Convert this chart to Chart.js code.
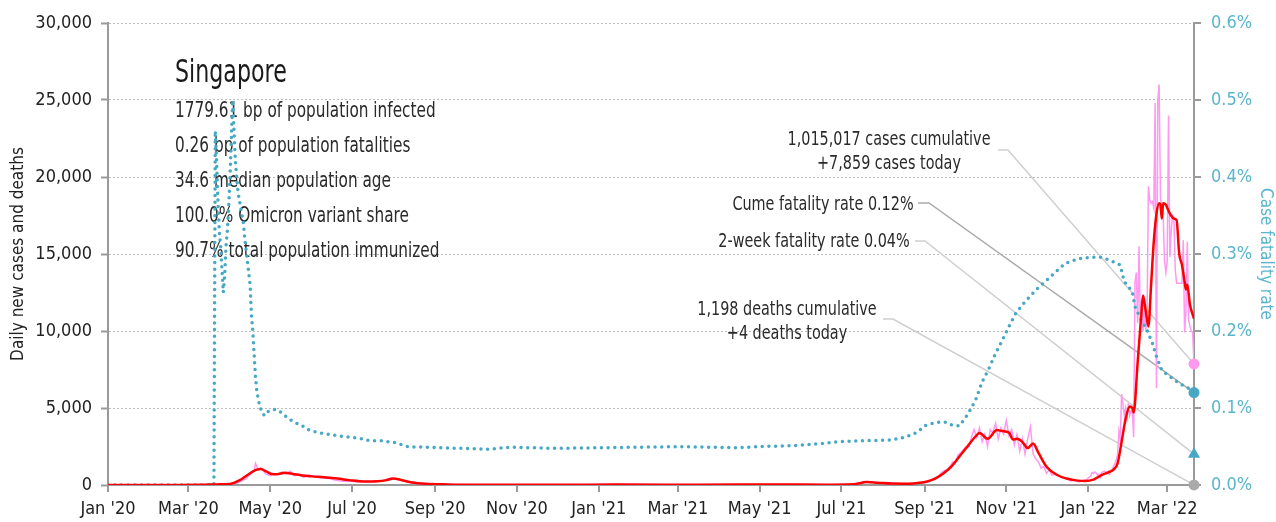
<!DOCTYPE html>
<html>
<head>
<meta charset="utf-8">
<title>Singapore</title>
<script src="https://cdn.jsdelivr.net/npm/chart.js@4.4.0/dist/chart.umd.min.js"></script>
<style>
  html, body { margin: 0; padding: 0; background: #fff; }
</style>
</head>
<body>
<canvas id="covidChart" width="1276" height="522"></canvas>
<script>
// Month ticks on the time axis
const monthTickDates = ["2020-01-01", "2020-03-01", "2020-05-01", "2020-07-01", "2020-09-01", "2020-11-01",
  "2021-01-01", "2021-03-01", "2021-05-01", "2021-07-01", "2021-09-01", "2021-11-01", "2022-01-01", "2022-03-01"];
const monthTickLabels = ["Jan '20", "Mar '20", "May '20", "Jul '20", "Sep '20", "Nov '20",
  "Jan '21", "Mar '21", "May '21", "Jul '21", "Sep '21", "Nov '21", "Jan '22", "Mar '22"];

// 7-day average of new cases
const avgDates = ["2020-01-01", "2020-02-15", "2020-03-10", "2020-03-22", "2020-04-01", "2020-04-08", "2020-04-14",
  "2020-04-20", "2020-04-24", "2020-04-28", "2020-05-02", "2020-05-06", "2020-05-12", "2020-05-18", "2020-05-25",
  "2020-06-01", "2020-06-10", "2020-06-20", "2020-06-30", "2020-07-10", "2020-07-20", "2020-07-26", "2020-08-01",
  "2020-08-06", "2020-08-15", "2020-08-25", "2020-09-10", "2020-10-01", "2020-12-01", "2021-01-15", "2021-03-15",
  "2021-05-15", "2021-06-20", "2021-07-10", "2021-07-20", "2021-07-28", "2021-08-08", "2021-08-20", "2021-08-28",
  "2021-09-03", "2021-09-09", "2021-09-15", "2021-09-21", "2021-09-27", "2021-10-03", "2021-10-09", "2021-10-12",
  "2021-10-18", "2021-10-25", "2021-10-29", "2021-11-03", "2021-11-06", "2021-11-09", "2021-11-13", "2021-11-17",
  "2021-11-21", "2021-11-25", "2021-12-01", "2021-12-09", "2021-12-16", "2021-12-23", "2021-12-30", "2022-01-05",
  "2022-01-10", "2022-01-16", "2022-01-20", "2022-01-23", "2022-01-26", "2022-01-29", "2022-02-01", "2022-02-03",
  "2022-02-04", "2022-02-07", "2022-02-10", "2022-02-11", "2022-02-13", "2022-02-15", "2022-02-17", "2022-02-19",
  "2022-02-21", "2022-02-23", "2022-02-24", "2022-02-25", "2022-02-26", "2022-02-28", "2022-03-02", "2022-03-06",
  "2022-03-08", "2022-03-10", "2022-03-12", "2022-03-14", "2022-03-15", "2022-03-16", "2022-03-18", "2022-03-21"];
const avgCases = [0, 5, 12, 40, 70, 300, 650,
  960, 1040, 880, 720, 700, 800, 720, 620,
  560, 500, 420, 300, 230, 250, 300, 420,
  340, 160, 80, 40, 15, 10, 25, 20,
  35, 20, 50, 190, 150, 90, 80, 140,
  230, 420, 750, 1200, 1850, 2500, 3150, 3370,
  3000, 3570, 3500, 3400, 2950, 3000, 2800, 2400,
  2700, 2080, 1190, 650, 420, 300, 260, 350,
  600, 820, 1000, 1400, 2800, 4300, 5100, 5000,
  4700, 8000, 11400, 12300, 11300, 10300, 13000, 15800,
  17600, 18300, 18200, 17300, 18300, 18200, 17800, 17300,
  17200, 15000, 14300, 13200, 12700, 13000, 11700, 10800];

// Daily new cases
const dailyDates = ["2020-01-01", "2020-03-10", "2020-03-20", "2020-03-28", "2020-04-03", "2020-04-07", "2020-04-10",
  "2020-04-13", "2020-04-16", "2020-04-19", "2020-04-20", "2020-04-22", "2020-04-24", "2020-04-26", "2020-04-28",
  "2020-05-01", "2020-05-04", "2020-05-07", "2020-05-10", "2020-05-13", "2020-05-16", "2020-05-19", "2020-05-22",
  "2020-05-26", "2020-05-30", "2020-06-04", "2020-06-09", "2020-06-14", "2020-06-19", "2020-06-24", "2020-06-30",
  "2020-07-06", "2020-07-12", "2020-07-18", "2020-07-24", "2020-07-30", "2020-08-04", "2020-08-10", "2020-08-16",
  "2020-08-22", "2020-09-01", "2020-10-01", "2020-12-01", "2021-01-15", "2021-03-15", "2021-05-15", "2021-06-20",
  "2021-07-10", "2021-07-16", "2021-07-20", "2021-07-25", "2021-08-01", "2021-08-10", "2021-08-20",
  "2021-08-25", "2021-08-30", "2021-09-02", "2021-09-05", "2021-09-08", "2021-09-11", "2021-09-14", "2021-09-16",
  "2021-09-18", "2021-09-20", "2021-09-22", "2021-09-24", "2021-09-26", "2021-09-28", "2021-09-30", "2021-10-02",
  "2021-10-04", "2021-10-06", "2021-10-08", "2021-10-10", "2021-10-12", "2021-10-14", "2021-10-16", "2021-10-18",
  "2021-10-20", "2021-10-22", "2021-10-24", "2021-10-26", "2021-10-28", "2021-10-30", "2021-11-01", "2021-11-03",
  "2021-11-05", "2021-11-07", "2021-11-09", "2021-11-11", "2021-11-13", "2021-11-15", "2021-11-17", "2021-11-19",
  "2021-11-21", "2021-11-23", "2021-11-25", "2021-11-27", "2021-11-29", "2021-12-01", "2021-12-03", "2021-12-05",
  "2021-12-07", "2021-12-10", "2021-12-13", "2021-12-16", "2021-12-19", "2021-12-22", "2021-12-25", "2021-12-28",
  "2021-12-31",
  "2022-01-03", "2022-01-04", "2022-01-05", "2022-01-06", "2022-01-07", "2022-01-08", "2022-01-09", "2022-01-10",
  "2022-01-11", "2022-01-12", "2022-01-13", "2022-01-14", "2022-01-15", "2022-01-16", "2022-01-17", "2022-01-18",
  "2022-01-19", "2022-01-20", "2022-01-21", "2022-01-22", "2022-01-23", "2022-01-24", "2022-01-25", "2022-01-26",
  "2022-01-27", "2022-01-28", "2022-01-29", "2022-01-30", "2022-01-31", "2022-02-01", "2022-02-02", "2022-02-03",
  "2022-02-04", "2022-02-05", "2022-02-06", "2022-02-07", "2022-02-08", "2022-02-09", "2022-02-10", "2022-02-11",
  "2022-02-12", "2022-02-13", "2022-02-14", "2022-02-15", "2022-02-16", "2022-02-17", "2022-02-18", "2022-02-19",
  "2022-02-20", "2022-02-21", "2022-02-22", "2022-02-23", "2022-02-24", "2022-02-25", "2022-02-26", "2022-02-27",
  "2022-02-28", "2022-03-01", "2022-03-02", "2022-03-03", "2022-03-04", "2022-03-05", "2022-03-06", "2022-03-07",
  "2022-03-08", "2022-03-09", "2022-03-10", "2022-03-11", "2022-03-12", "2022-03-13", "2022-03-14", "2022-03-15",
  "2022-03-16", "2022-03-17", "2022-03-18", "2022-03-19", "2022-03-20", "2022-03-21"];
const dailyCases = [0, 15, 40, 60, 100, 150, 280,
  400, 700, 900, 1400, 1000, 1100, 900, 700,
  600, 750, 700, 850, 700, 900, 600, 700,
  500, 650, 500, 450, 420, 300, 250, 250,
  200, 250, 200, 300, 450, 350, 250, 120,
  80, 50, 15, 10, 30, 20, 40, 20,
  60, 160, 220, 170, 110, 90, 80,
  100, 160, 200, 300, 420, 550, 830, 950,
  1000, 1200, 1500, 1400, 1950, 2100, 2300, 2500,
  2450, 3100, 3600, 3100, 3700, 2800, 3300, 2500,
  3600, 3400, 4000, 3000, 3700, 3300, 4200, 3200,
  3600, 2600, 3300, 2200, 3000, 2000, 3000, 3800,
  2000, 1700, 1500, 1100, 1200, 750, 1000, 650,
  700, 600, 450, 400, 280, 300, 200, 280,
  350,
  600, 800, 750, 850, 800, 650, 700, 500,
  800, 850, 900, 850, 850, 750, 700, 900,
  1000, 1200, 1400, 1600, 2000, 3500, 3000, 5900,
  5300, 4500, 5000, 4300, 5300, 4500, 4800, 4800,
  3100, 13200, 13800, 10500, 15500, 10500, 12000, 10000,
  11500, 10000, 11000, 19400, 18500, 18300, 18400, 18000,
  24800, 6300, 25000, 26000, 18500, 18300, 17500, 14600,
  13800, 14500, 24000, 14800, 16500, 17500, 17400, 14000,
  13100, 13100, 13100, 13100, 13100, 15900, 9900, 11300,
  15800, 10700, 10300, 10000, 9900, 7859];

// Cumulative case fatality rate (%)
const cfrDates = ["2020-01-01", "2020-03-20", "2020-03-21", "2020-03-22", "2020-03-23", "2020-03-24", "2020-03-25",
  "2020-03-26", "2020-03-27", "2020-03-28", "2020-03-29", "2020-03-30", "2020-03-31", "2020-04-01", "2020-04-02",
  "2020-04-03", "2020-04-04", "2020-04-05", "2020-04-07", "2020-04-09", "2020-04-11", "2020-04-12", "2020-04-14",
  "2020-04-16", "2020-04-17", "2020-04-18", "2020-04-19", "2020-04-20", "2020-04-21", "2020-04-22", "2020-04-23",
  "2020-04-25", "2020-04-27", "2020-04-29", "2020-05-02", "2020-05-04", "2020-05-07", "2020-05-10", "2020-05-14",
  "2020-05-19", "2020-05-24", "2020-05-29", "2020-06-06", "2020-06-13", "2020-06-21", "2020-06-30", "2020-07-08",
  "2020-07-15", "2020-07-23", "2020-08-02", "2020-08-12", "2020-09-03", "2020-09-28", "2020-10-09", "2020-10-14",
  "2020-10-26", "2020-11-10", "2020-11-28", "2021-03-05", "2021-04-14", "2021-05-04", "2021-05-24", "2021-06-10",
  "2021-06-23", "2021-06-29", "2021-07-16", "2021-08-02", "2021-08-07", "2021-08-19", "2021-08-27", "2021-09-01",
  "2021-09-09", "2021-09-16", "2021-09-19", "2021-09-27", "2021-10-03", "2021-10-09", "2021-10-14", "2021-10-19",
  "2021-10-24", "2021-10-29", "2021-11-03", "2021-11-08", "2021-11-15", "2021-11-23", "2021-11-30", "2021-12-08",
  "2021-12-15", "2021-12-25", "2022-01-04", "2022-01-11", "2022-01-17", "2022-01-25", "2022-01-28", "2022-02-03",
  "2022-02-05", "2022-02-09", "2022-02-14", "2022-02-18", "2022-02-21", "2022-02-25", "2022-03-03", "2022-03-10",
  "2022-03-17", "2022-03-21"];
const cfrPct = [0, 0, 0.46, 0.42, 0.37, 0.33, 0.31,
  0.28, 0.25, 0.27, 0.31, 0.33, 0.36, 0.40, 0.45,
  0.50, 0.46, 0.42, 0.38, 0.36, 0.34, 0.32, 0.29,
  0.26, 0.22, 0.20, 0.17, 0.14, 0.122, 0.112, 0.104,
  0.093, 0.09, 0.095, 0.097, 0.098, 0.097, 0.093, 0.087,
  0.081, 0.078, 0.072, 0.068, 0.066, 0.0636, 0.062, 0.06,
  0.0575, 0.0575, 0.055, 0.0497, 0.0485, 0.0472, 0.0463, 0.047,
  0.049, 0.0485, 0.0476, 0.0498, 0.0485, 0.05, 0.051, 0.0528,
  0.055, 0.0563, 0.0576, 0.058, 0.0584, 0.0628, 0.069, 0.077,
  0.081, 0.082, 0.079, 0.0766, 0.091, 0.11, 0.134, 0.151,
  0.171, 0.188, 0.206, 0.223, 0.238, 0.253, 0.264, 0.277,
  0.288, 0.294, 0.2957, 0.2957, 0.292, 0.2857, 0.264, 0.251,
  0.2316, 0.2165, 0.201, 0.184, 0.1667, 0.149, 0.1407, 0.132,
  0.1255, 0.121, 0.12];

// Latest figures
const latestDate = "2022-03-21";
const casesCumulative = 1015017;
const casesToday = 7859;
const deathsCumulative = 1198;
const deathsToday = 4;
const cumeFatalityRate = 0.12;
const twoWeekFatalityRate = 0.04;

const countryName = "Singapore";
const infoLines = [
  "1779.61 bp of population infected",
  "0.26 bp of population fatalities",
  "34.6 median population age",
  "100.0% Omicron variant share",
  "90.7% total population immunized"
];

const FONT = "'Liberation Sans Narrow', 'DejaVu Sans Condensed', 'Roboto', sans-serif";
const TEAL = "#47a8c4";
const TEAL_TEXT = "#5ab5cc";
const PINK = "#ff99f0";
const AXIS_GRAY = "#9a9a9a";

const DAY_MS = 86400000;
const day0 = Date.parse("2020-01-01");
function dayIndex(s) {
  return Math.round((Date.parse(s) - day0) / DAY_MS);
}
function toPoints(dates, values) {
  return dates.map((d, i) => ({ x: dayIndex(d), y: values[i] }));
}
const fmt = n => n.toLocaleString("en-US");
const lastDay = dayIndex(latestDate);

Chart.defaults.font.family = FONT;
Chart.defaults.font.size = 18;
Chart.defaults.color = "#222";

// Callouts beside the latest values, with leader lines to the end markers
const callouts = [
  { lines: [fmt(casesCumulative) + " cases cumulative", "+" + fmt(casesToday) + " cases today"],
    cx: 889, base: 145, from: [998, 150], mid: [1008, 150], axis: "y", value: casesToday, color: "#cfcfcf" },
  { lines: ["Cume fatality rate " + cumeFatalityRate.toFixed(2) + "%"],
    cx: 823, base: 210, from: [918, 203], mid: [929, 203], axis: "y1", value: cumeFatalityRate, color: "#aaaaaa" },
  { lines: ["2-week fatality rate " + twoWeekFatalityRate.toFixed(2) + "%"],
    cx: 814, base: 247, from: [915, 241], mid: [925, 241], axis: "y1", value: twoWeekFatalityRate, color: "#cfcfcf" },
  { lines: [fmt(deathsCumulative) + " deaths cumulative", "+" + deathsToday + " deaths today"],
    cx: 787, base: 315, from: [883, 319], mid: [893, 319], axis: "y", value: deathsToday, color: "#cfcfcf" }
];

// narrow text: squeeze horizontally around the anchor point
function narrowText(ctx, text, x, y, sx) {
  ctx.save();
  ctx.translate(x, y);
  ctx.scale(sx, 1);
  ctx.fillText(text, 0, 0);
  ctx.restore();
}

const annotationPlugin = {
  id: "annotations",
  beforeDatasetsDraw(chart) {
    const { ctx, scales } = chart;
    ctx.save();
    ctx.textBaseline = "alphabetic";
    ctx.textAlign = "left";
    ctx.fillStyle = "#1a1a1a";
    ctx.font = "32px " + FONT;
    narrowText(ctx, countryName, 175, 82, 0.77);
    ctx.fillStyle = "#2a2a2a";
    ctx.font = "21px " + FONT;
    infoLines.forEach((line, i) => narrowText(ctx, line, 175, 117 + i * 35, 0.81));

    const px = scales.x.getPixelForValue(lastDay);
    ctx.font = "20px " + FONT;
    ctx.textAlign = "center";
    callouts.forEach(c => {
      c.lines.forEach((line, i) => narrowText(ctx, line, c.cx, c.base + i * 24, 0.8));
      const py = scales[c.axis].getPixelForValue(c.value);
      ctx.strokeStyle = c.color;
      ctx.lineWidth = 1.5;
      ctx.beginPath();
      ctx.moveTo(c.from[0], c.from[1]);
      ctx.lineTo(c.mid[0], c.mid[1]);
      ctx.lineTo(px, py);
      ctx.stroke();
    });
    ctx.restore();
  }
};

function marker(value, axis, color, style, radius) {
  return {
    data: [{ x: lastDay, y: value }],
    yAxisID: axis,
    showLine: false,
    pointStyle: style,
    pointRadius: radius,
    pointBackgroundColor: color,
    pointBorderColor: color,
    pointBorderWidth: 0,
    clip: false,
    order: 0
  };
}

new Chart(document.getElementById("covidChart"), {
  type: "line",
  data: {
    datasets: [
      marker(casesToday, "y", PINK, "circle", 5.5),
      marker(cumeFatalityRate, "y1", TEAL, "circle", 5.5),
      marker(twoWeekFatalityRate, "y1", TEAL, "triangle", 7),
      marker(deathsToday, "y", "#aaaaaa", "circle", 5.5),
      {
        label: "7-day average",
        data: toPoints(avgDates, avgCases),
        yAxisID: "y",
        borderColor: "#ff0000",
        borderWidth: 2.5,
        pointRadius: 0,
        cubicInterpolationMode: "monotone",
        order: 1
      },
      {
        label: "Case fatality rate",
        data: toPoints(cfrDates, cfrPct),
        yAxisID: "y1",
        borderColor: TEAL,
        borderWidth: 3.5,
        borderDash: [0, 6.7],
        borderCapStyle: "round",
        pointRadius: 0,
        order: 2
      },
      {
        label: "Daily new cases",
        data: toPoints(dailyDates, dailyCases),
        yAxisID: "y",
        borderColor: PINK,
        borderWidth: 1.5,
        pointRadius: 0,
        order: 3
      }
    ]
  },
  options: {
    responsive: false,
    animation: false,
    layout: { padding: { top: 23, left: 0, right: 0, bottom: 0 } },
    plugins: { legend: { display: false }, tooltip: { enabled: false } },
    scales: {
      x: {
        type: "linear",
        min: 0,
        max: lastDay,
        afterBuildTicks: axis => { axis.ticks = monthTickDates.map(d => ({ value: dayIndex(d) })); },
        afterFit: axis => { axis.height = 37; },
        ticks: {
          autoSkip: false,
          maxRotation: 0,
          padding: 7,
          color: "#222",
          callback: (value, index) => monthTickLabels[index]
        },
        grid: { drawOnChartArea: false, drawTicks: true, tickLength: 7, color: AXIS_GRAY, lineWidth: 2 },
        border: { display: true, color: AXIS_GRAY, width: 2 }
      },
      y: {
        position: "left",
        min: 0,
        max: 30000,
        afterFit: axis => { axis.width = 108; },
        ticks: { stepSize: 5000, padding: 9, color: "#222", callback: v => fmt(v) },
        title: { display: true, text: "Daily new cases and deaths", color: "#222", font: { size: 17 }, padding: { top: 8, bottom: 0 } },
        grid: { color: "#bdbdbd", lineWidth: 1, drawTicks: true, tickLength: 7, tickColor: AXIS_GRAY, tickWidth: 2 },
        border: { display: true, color: AXIS_GRAY, width: 2, dash: [2, 2] }
      },
      y1: {
        position: "right",
        min: 0,
        max: 0.6,
        afterFit: axis => { axis.width = 82; },
        ticks: { stepSize: 0.1, padding: 10, color: TEAL_TEXT, callback: v => v.toFixed(1) + "%" },
        title: { display: true, text: "Case fatality rate", color: TEAL_TEXT, font: { size: 17 }, padding: { top: 0, bottom: 0 } },
        grid: { drawOnChartArea: false, drawTicks: true, tickLength: 7, color: AXIS_GRAY, lineWidth: 2 },
        border: { display: true, color: AXIS_GRAY, width: 2 }
      }
    }
  },
  plugins: [annotationPlugin]
});
</script>
</body>
</html>
